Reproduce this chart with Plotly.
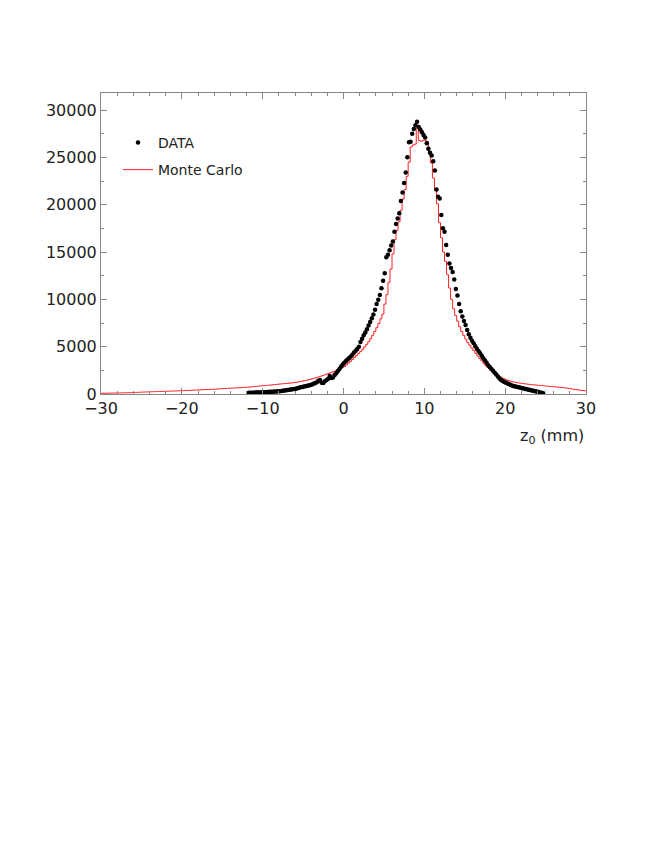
import plotly.graph_objects as go

# ---- DATA (z0 in mm, counts) ----
data_x_start = -11.8
data_bin = 0.2
data_counts = [
    130, 135, 140, 145, 150, 155, 165, 170, 180, 190,
    195, 205, 215, 225, 240, 250, 260, 275, 285, 300,
    320, 340, 360, 390, 420, 445, 470, 500, 530, 560,
    600, 650, 700, 740, 780, 820, 860, 900, 950, 1000,
    1070, 1150, 1250, 1400, 1470, 1200, 1150, 1350, 1480, 1620,
    1900, 1700, 1750, 2000, 2200, 2420, 2650, 2900, 3120, 3300,
    3480, 3650, 3800, 3960, 4150, 4380, 4560, 4760, 5000, 5500,
    5850, 6200, 6500, 6850, 7250, 7600, 7990, 8400, 8900, 9500,
    9950, 10450, 11160, 11970, 12750, 14450, 14700, 15200, 15700, 16100,
    17140, 17950, 18550, 19100, 20400, 21300, 22300, 23400, 25000, 26600,
    26650, 27500, 27990, 28400, 28750, 28200, 27950, 27650, 27350, 27100,
    26500, 25900, 25500, 25200, 24600, 23600, 21600, 20850, 20650, 18900,
    17500, 17140, 15750, 14700, 13800, 13300, 12900, 12100, 11100, 10400,
    9500, 8750, 8200, 7700, 7300, 6750, 6300, 5950, 5630, 5350,
    5050, 4780, 4550, 4300, 4050, 3780, 3550, 3300, 3050, 2850,
    2650, 2450, 2250, 2050, 1850, 1650, 1480, 1380, 1280, 1180,
    1100, 1020, 940, 870, 820, 780, 740, 700, 660, 620,
    580, 540, 500, 460, 420, 380, 340, 300, 260, 220,
    170, 120, 70,
]

# ---- Monte Carlo histogram (bins of 0.25 mm from -30 to 30) ----
mc_x_start = -30.0
mc_bin = 0.25
mc_counts = [
    70, 75, 80, 85, 90, 95, 100, 105, 110, 115, 120, 125,
    130, 135, 140, 150, 160, 170, 180, 190, 200, 210, 215, 225,
    230, 240, 245, 255, 260, 270, 275, 285, 290, 300, 305, 315,
    320, 330, 335, 345, 350, 360, 370, 380, 390, 400, 410, 420,
    430, 440, 450, 460, 470, 480, 490, 500, 510, 525, 540, 555,
    570, 580, 595, 605, 620, 630, 640, 655, 660, 675, 690, 705,
    720, 740, 760, 780, 800, 820, 840, 860,
    880, 900, 920, 940, 960, 985, 1005, 1030, 1050, 1070, 1090, 1110,
    1130, 1150, 1175, 1200, 1230, 1270, 1310, 1350, 1400, 1440, 1490, 1540,
    1600, 1660, 1720, 1790, 1860, 1930, 2000, 2080, 2160, 2240, 2310, 2390,
    2470, 2560, 2660, 2780, 2900, 3080, 3280, 3470, 3650, 3850, 4060, 4270,
    4480, 4720, 4980, 5240, 5520, 5850, 6200, 6600, 7000, 7450, 7950, 8450,
    9500, 10500, 11800, 13200, 14800, 16300, 17300, 18200,
    19400, 20600, 21600, 23000, 24500, 26100, 26300, 26400,
    28400, 26800, 26700, 26800, 26800, 26700, 25600, 24400,
    22800, 21500, 20100, 18100, 16500, 15000, 14000, 12600,
    11200, 10000, 9000, 8300, 7700, 7100, 6600, 6200,
    5800, 5450, 5150, 4850, 4600, 4300, 4000, 3750,
    3500, 3250, 3000, 2800, 2600, 2400, 2250, 2100,
    1950, 1820, 1700, 1600, 1500, 1420, 1360, 1310,
    1260, 1220, 1180, 1150, 1120, 1090, 1060, 1030,
    1000, 980, 960, 940, 920, 900, 880, 860,
    840, 820, 800, 780, 760, 740, 720, 700,
    680, 650, 620, 590, 560, 520, 480, 450,
    420, 390, 360, 340,
]

x_tick_vals = [-30, -20, -10, 0, 10, 20, 30]
x_tick_text = ["\u221230", "\u221220", "\u221210", "0", "10", "20", "30"]
y_tick_vals = [0, 5000, 10000, 15000, 20000, 25000, 30000]
y_tick_text = ["0", "5000", "10000", "15000", "20000", "25000", "30000"]

data_x = [data_x_start + data_bin * (i + 0.5) for i in range(len(data_counts))]
mc_x = [mc_x_start + mc_bin * i for i in range(len(mc_counts) + 1)]
mc_y = mc_counts + [mc_counts[-1]]

FONT = "DejaVu Sans"

fig = go.Figure()
fig.add_trace(go.Scatter(
    x=mc_x, y=mc_y, mode="lines", line=dict(color="#ff2020", width=1, shape="hv"),
    name="Monte Carlo", legend="legend2"))
fig.add_trace(go.Scatter(
    x=data_x, y=data_counts, mode="markers",
    marker=dict(color="black", size=4.5),
    name="DATA", legend="legend"))

axis_common = dict(
    showline=True, linecolor="#888888", linewidth=1, mirror="allticks",
    ticks="inside", tickcolor="#888888", ticklen=6, tickwidth=1,
    showgrid=False, zeroline=False,
    tickfont=dict(family=FONT, size=16, color="#222222"),
)

fig.update_xaxes(range=[-30, 30], tickvals=x_tick_vals, ticktext=x_tick_text,
                 minor=dict(ticks="inside", dtick=2, ticklen=3, tickcolor="#888888"),
                 **axis_common)
fig.update_yaxes(range=[0, 31800], tickvals=y_tick_vals, ticktext=y_tick_text,
                 minor=dict(ticks="inside", dtick=2500, ticklen=3, tickcolor="#888888"),
                 **axis_common)

legend_common = dict(font=dict(family=FONT, size=14, color="#222222"),
                     bgcolor="rgba(0,0,0,0)", borderwidth=0,
                     xanchor="left", yanchor="middle", itemwidth=30)
fig.update_layout(
    width=646, height=838,
    margin=dict(l=93, r=68, t=85, b=452, autoexpand=False),
    paper_bgcolor="white", plot_bgcolor="white",
    showlegend=True,
    legend=dict(x=0.035, y=0.834, **legend_common),
    legend2=dict(x=0.035, y=0.744, **legend_common),
    annotations=[dict(
        text="z<sub>0</sub> (mm)", xref="paper", yref="paper", x=1.0, y=-0.142,
        xanchor="right", yanchor="middle", showarrow=False,
        font=dict(family=FONT, size=16, color="#222222"))],
)

fig.write_html("out.html")
